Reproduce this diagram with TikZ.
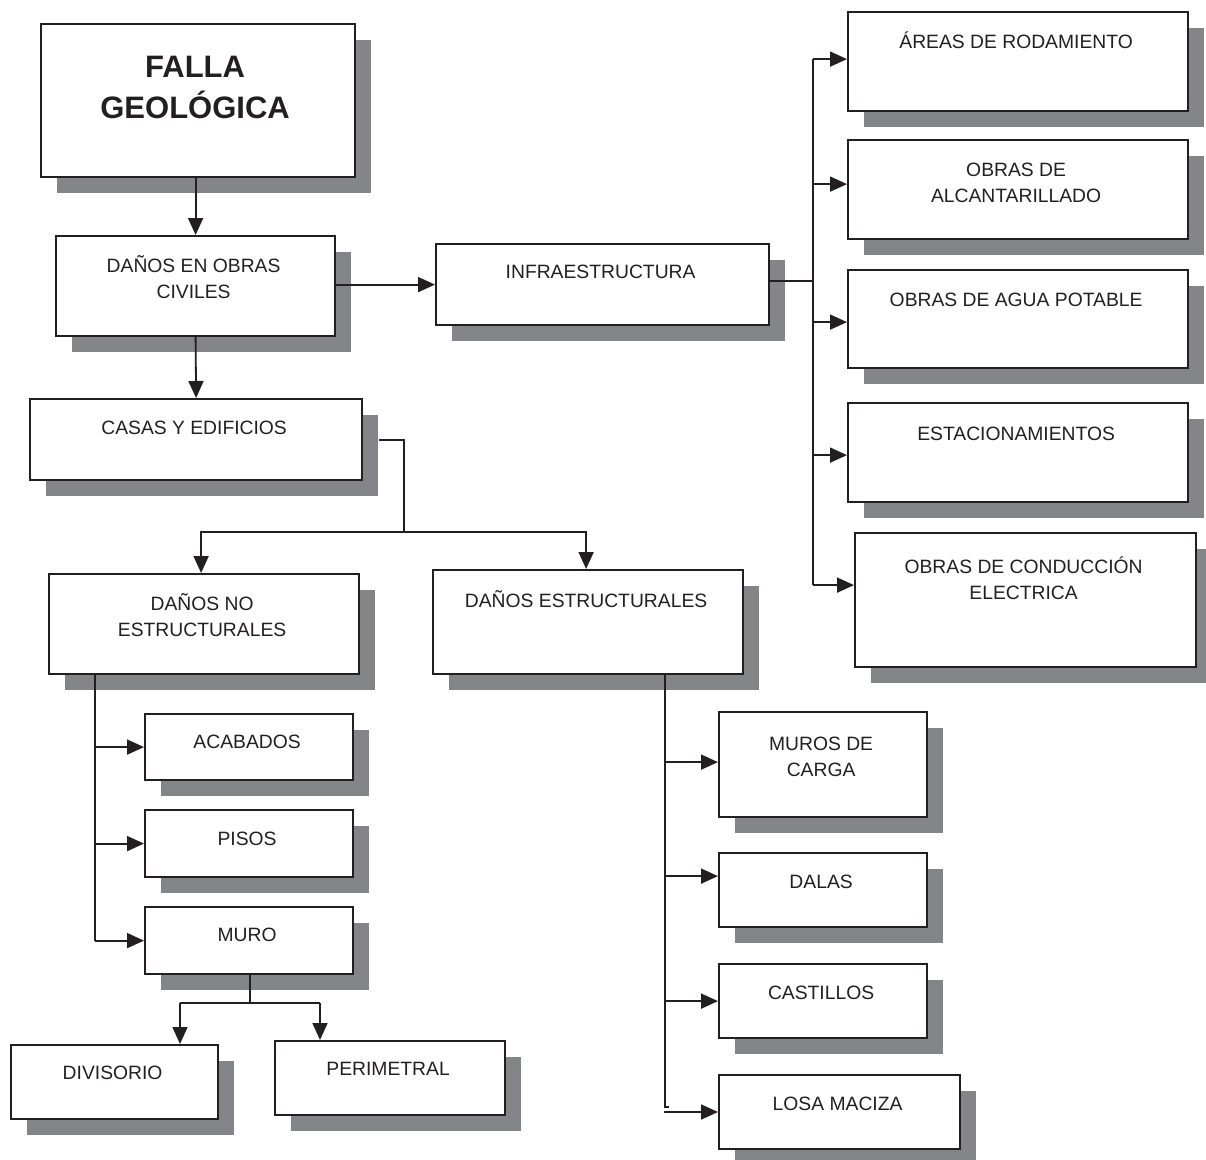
\documentclass[tikz,border=0pt]{standalone}
\usepackage{fontspec}
\setmainfont{Liberation Sans}
\usetikzlibrary{arrows.meta,shadows,calc}
\definecolor{shd}{RGB}{132,133,137}
\definecolor{ink}{RGB}{35,31,32}
\newcommand\mkbox[7]{% name l t r b baseline-offset(last line) text
  \node[box, minimum width={#4-#2}, minimum height={#5-#3}] (#1) at (#2,#3) {};
  \node[lbl] (#1-t) at ([xshift=-2pt,yshift=-#6pt]#1.north) {#7};
}
\begin{document}
\begin{tikzpicture}[x=1pt,y=-1pt,
  box/.style={draw=ink, line width=2.2pt, fill=white, inner sep=0pt, anchor=north west,
    general shadow={fill=shd, shadow xshift=16pt, shadow yshift=-16pt}},
  lbl/.style={anchor=base, inner sep=0pt, text=ink, align=center, font=\fontsize{19.3pt}{26pt}\selectfont},
  ln/.style={draw=ink, line width=1.8pt},
  arr/.style={ln, -{Triangle[length=17pt,width=15pt]}},
]
\useasboundingbox (0,0) rectangle (1206,1159);

% boxes
\node[box, minimum width=314, minimum height=153] (falla) at (40,23) {};
\node[anchor=base, inner sep=0pt, text=ink, align=center, font=\bfseries\fontsize{31pt}{41pt}\selectfont] (falla-t) at ([xshift=-3pt,yshift=-95pt]falla.north) {FALLA\\GEOLÓGICA};

\mkbox{obras}{55}{235}{334}{335}{63}{DAÑOS EN OBRAS\\CIVILES}
\mkbox{infra}{435}{243}{768}{324}{35}{INFRAESTRUCTURA}
\mkbox{areas}{847}{11}{1187}{110}{37}{ÁREAS DE RODAMIENTO}
\mkbox{alcan}{847}{139}{1187}{238}{63}{OBRAS DE\\ALCANTARILLADO}
\mkbox{agua}{847}{269}{1187}{367}{37}{OBRAS DE AGUA POTABLE}
\mkbox{estac}{847}{402}{1187}{501}{38}{ESTACIONAMIENTOS}
\mkbox{cond}{854}{532}{1195}{666}{67}{OBRAS DE CONDUCCIÓN\\ELECTRICA}
\mkbox{casas}{29}{398}{361}{479}{36}{CASAS Y EDIFICIOS}
\mkbox{dne}{48}{573}{358}{673}{63}{DAÑOS NO\\ESTRUCTURALES}
\mkbox{de}{432}{569}{742}{673}{38}{DAÑOS ESTRUCTURALES}
\mkbox{acab}{144}{713}{352}{779}{35}{ACABADOS}
\mkbox{pisos}{144}{809}{352}{876}{36}{PISOS}
\mkbox{muro}{144}{906}{352}{973}{35}{MURO}
\mkbox{divis}{10}{1044}{217}{1118}{35}{DIVISORIO}
\mkbox{perim}{274}{1040}{504}{1114}{35}{PERIMETRAL}
\mkbox{mcarga}{718}{711}{926}{816}{65}{MUROS DE\\CARGA}
\mkbox{dalas}{718}{852}{926}{926}{36}{DALAS}
\mkbox{castil}{718}{963}{926}{1037}{36}{CASTILLOS}
\mkbox{losa}{718}{1074}{959}{1148}{36}{LOSA MACIZA}

% top connectors
\draw[arr] (obras.north |- falla.south) -- (obras.north);
\coordinate (iW) at (infra.west);
\draw[arr] (obras.east |- iW) -- (iW);
\draw[arr] (obras.south) -- (casas.north);

% infraestructura spine
\coordinate (sp) at (813,280);
\coordinate (iE) at ([yshift=3.5pt]infra.east);
\draw[ln] (iE) -- (iE -| sp);
\coordinate (aA) at ([yshift=2.5pt]areas.west);
\coordinate (aB) at ([yshift=5.5pt]alcan.west);
\coordinate (aC) at ([yshift=-3pt]agua.west);
\coordinate (aD) at ([yshift=-2.5pt]estac.west);
\coordinate (aE) at ([yshift=15pt]cond.west);
\draw[ln] (aA -| sp) -- (aE -| sp);
\foreach \t in {aA,aB,aC,aD,aE} \draw[arr] (\t -| sp) -- (\t);

% casas y edificios
\coordinate (cE) at ([xshift=16pt]casas.east);
\coordinate (cj) at (404,532);
\coordinate (dN) at ([xshift=-3pt]dne.north);
\coordinate (dE) at ([xshift=-2pt]de.north);
\draw[ln] (cE) -| (cj);
\draw[arr] (cj) -| (dN);
\draw[arr] (cj) -| (dE);

% no estructurales
\coordinate (ns) at (95,673);
\draw[ln] (ns) -- (ns |- muro.west);
\draw[arr] (ns |- acab.west) -- (acab.west);
\draw[arr] (ns |- pisos.west) -- (pisos.west);
\draw[arr] (ns |- muro.west) -- (muro.west);

% muro
\coordinate (mj) at (250,1003);
\coordinate (dl) at (180,1003);
\coordinate (pr) at (320,1003);
\draw[ln] (muro.south -| mj) -- (mj);
\draw[ln] (dl) -- (pr);
\draw[arr] (dl) -- (dl |- divis.north);
\draw[arr] (pr) -- (pr |- perim.north);

% estructurales
\coordinate (es) at (665,673);
\coordinate (eb) at (665,1107);
\draw[ln] (es) -- (eb) -- ++(4,0);
\coordinate (m1) at ([yshift=2.5pt]mcarga.west);
\coordinate (m2) at ([yshift=14pt]dalas.west);
\coordinate (m3) at (castil.west);
\draw[arr] (es |- m1) -- (m1);
\draw[arr] (es |- m2) -- (m2);
\draw[arr] (es |- m3) -- (m3);
\coordinate (lq) at (664,1112);
\draw[arr] (lq) -- (lq -| losa.west);
\end{tikzpicture}
\end{document}
